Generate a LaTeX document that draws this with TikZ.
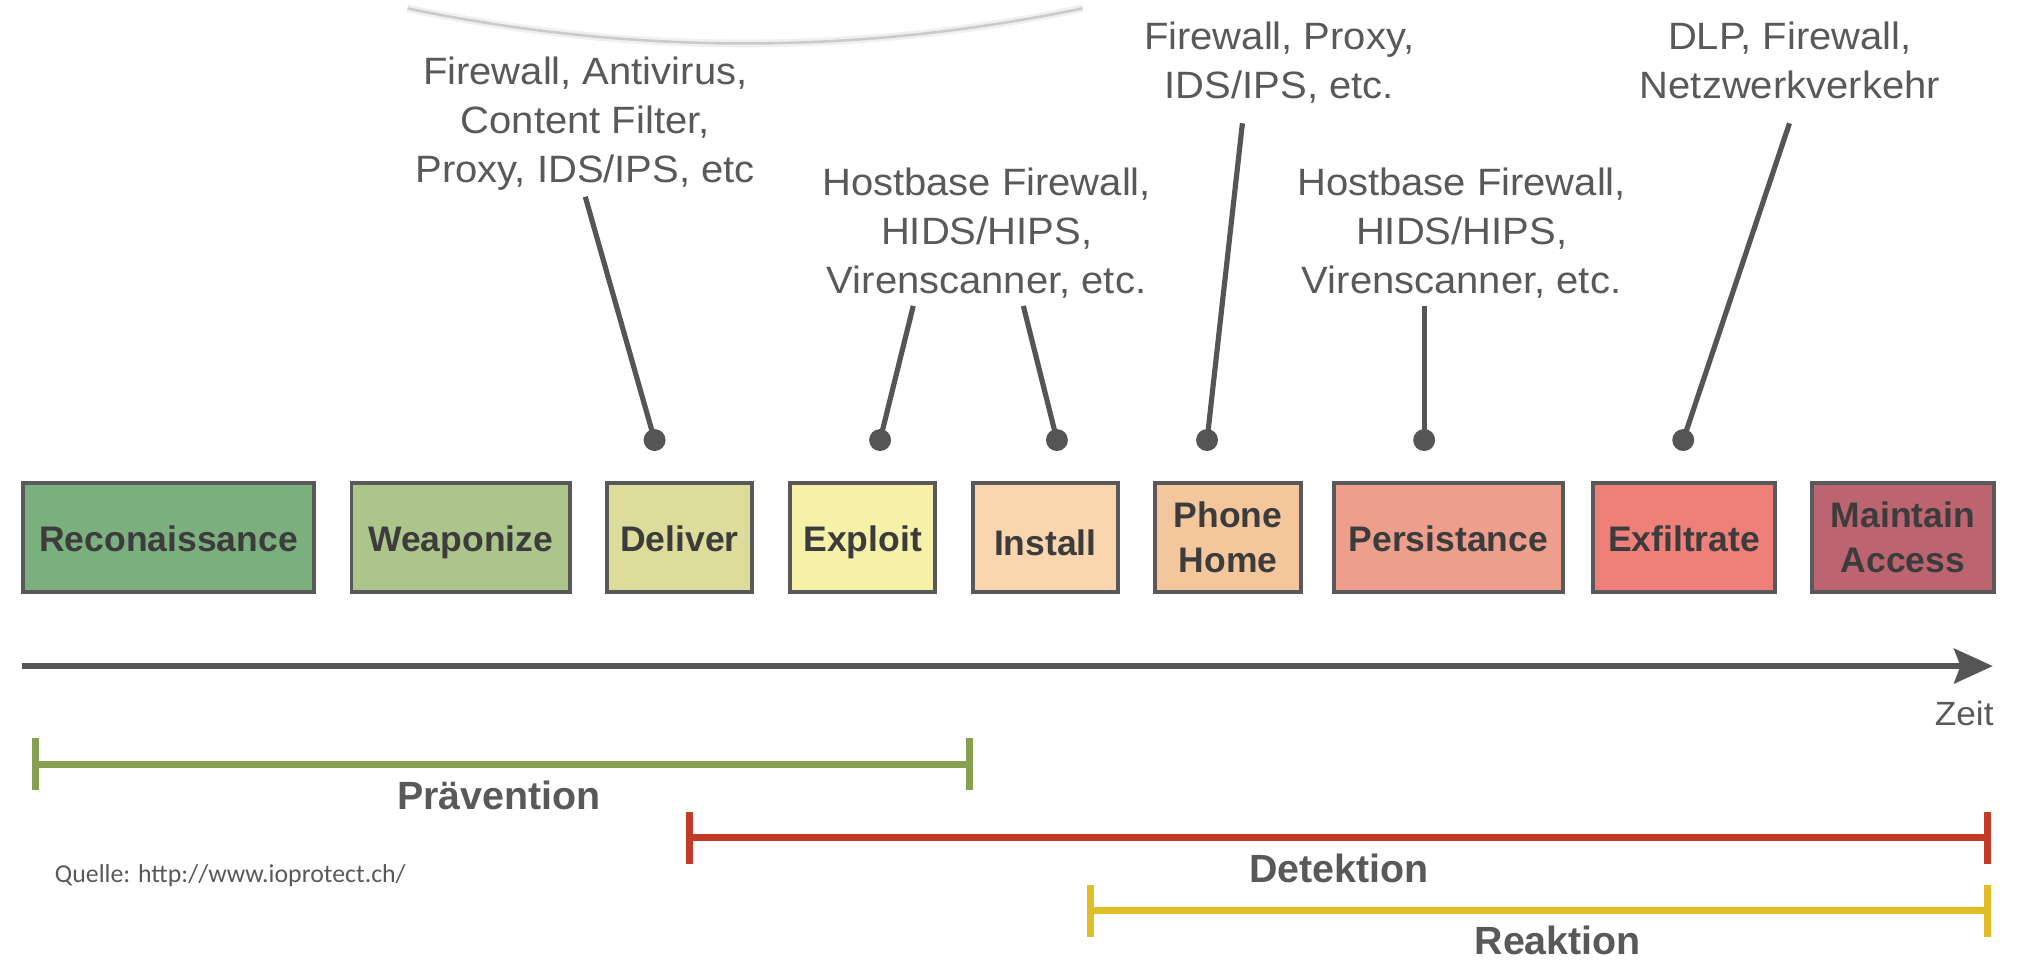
\documentclass[tikz,border=0pt]{standalone}
\usepackage{fontspec}
\setmainfont{Liberation Sans}
\newfontfamily\labfont[FakeStretch=1.05]{Liberation Sans}
\newfontfamily\srcfont{Carlito}
\usetikzlibrary{arrows.meta}
\definecolor{cRecon}{HTML}{7BB07E}
\definecolor{cWeap}{HTML}{ADC58A}
\definecolor{cDeliv}{HTML}{DCDC9B}
\definecolor{cExpl}{HTML}{F6F1A9}
\definecolor{cInst}{HTML}{FAD6AE}
\definecolor{cPhone}{HTML}{F3C79B}
\definecolor{cPers}{HTML}{EE9E8C}
\definecolor{cExfil}{HTML}{EE7F79}
\definecolor{cMaint}{HTML}{BC6570}
\definecolor{boxline}{HTML}{595959}
\definecolor{boxtext}{HTML}{3C3C3C}
\definecolor{labgray}{HTML}{595959}
\definecolor{pingray}{HTML}{555555}
\definecolor{axisgray}{HTML}{555555}
\definecolor{arcgray}{HTML}{CBCBCB}
\definecolor{arcfade}{HTML}{F0F0F0}
\definecolor{cGreen}{HTML}{87A04F}
\definecolor{cRed}{HTML}{C23B26}
\definecolor{cYellow}{HTML}{E2BD2A}
\begin{document}
\begin{tikzpicture}[x=1pt,y=-1pt,
  stage/.style={draw=boxline, line width=3pt, minimum height=84pt, inner sep=0pt,
    font=\fontsize{27.5}{35}\selectfont\bfseries, text=boxtext, align=center},
  oneline/.style={text height=26pt, text depth=4.2pt},
  lab/.style={font=\labfont\fontsize{29.5}{38}\selectfont, text=labgray, align=center,
    inner sep=0pt, anchor=base},
  pin/.style={draw=pingray, line width=4pt},
  pindot/.style={circle, fill=pingray, minimum size=17pt, inner sep=0pt},
  phase/.style={line width=5.5pt},
  phlab/.style={font=\fontsize{30.5}{36}\selectfont\bfseries, text=labgray, anchor=base, inner sep=0pt},
]
\useasboundingbox[fill=white] (0,0) rectangle (1568,756);

% faint arc at the top
\coordinate (arcL) at (315.7,6.5);
\coordinate (arcR) at (838.6,6.5);
\draw[arcfade, line width=6pt] (arcL) .. controls (490,42.7) and (664,42.7) .. (arcR);
\draw[arcgray, line width=2pt] (arcL) .. controls (490,42.7) and (664,42.7) .. (arcR);

% stages
\node[stage, oneline, fill=cRecon, minimum width=225.7pt] (recon) at (130.6,416.5) {Reconaissance};
\node[stage, oneline, fill=cWeap, minimum width=169.2pt] (weap) at (356.9,416.5) {Weaponize};
\node[stage, oneline, fill=cDeliv, minimum width=112.2pt] (deliv) at (526.3,416.5) {Deliver};
\node[stage, oneline, fill=cExpl, minimum width=112.5pt] (expl) at (668.3,416.5) {Exploit};
\node[stage, fill=cInst, minimum width=112.5pt, text height=30pt, text depth=2pt] (inst) at (809.8,416.5) {Install};
\node[stage, fill=cPhone, minimum width=112.9pt] (phone) at (951.4,416.5) {Phone\\Home};
\node[stage, oneline, fill=cPers, minimum width=177.4pt] (pers) at (1122,416.5) {Persistance};
\node[stage, oneline, fill=cExfil, minimum width=141.2pt] (exfil) at (1304.6,416.5) {Exfiltrate};
\node[stage, fill=cMaint, minimum width=141pt] (maint) at (1474.2,416.5) {Maintain\\Access};

% labels (anchor base = baseline of the last line)
\node[lab] (l1) at (453.4,141.5) {Firewall, Antivirus,\\Content Filter,\\Proxy, IDS/IPS, etc};
\node[lab] (l2) at (764.3,227.2) {Hostbase Firewall,\\HIDS/HIPS,\\Virenscanner, etc.};
\node[lab] (l3) at (991,76.2) {Firewall, Proxy,\\IDS/IPS, etc.};
\node[lab] (l4) at (1132.3,227.2) {Hostbase Firewall,\\HIDS/HIPS,\\Virenscanner, etc.};
\node[lab] (l5) at (1386.6,76.2) {DLP, Firewall,\\Netzwerkverkehr};

% pins
\coordinate (t1) at (453.4,152.4);
\coordinate (t2) at (707.5,237);
\coordinate (t3) at (792.8,237);
\coordinate (t4) at (962.5,95.5);
\coordinate (t5) at (1103.3,237);
\coordinate (t6) at (1386.3,95.5);
\node[pindot] (d1) at (507.1,340.9) {};
\node[pindot] (d2) at (681.8,340.9) {};
\node[pindot] (d3) at (818.8,340.9) {};
\node[pindot] (d4) at (935.1,340.9) {};
\node[pindot] (d5) at (1103.3,340.9) {};
\node[pindot] (d6) at (1304,340.9) {};
\draw[pin] (t1) -- (d1.center);
\draw[pin] (t2) -- (d2.center);
\draw[pin] (t3) -- (d3.center);
\draw[pin] (t4) -- (d4.center);
\draw[pin] (t5) -- (d5.center);
\draw[pin] (t6) -- (d6.center);

% time axis
\coordinate (ax0) at (17.3,516);
\coordinate (ax1) at (1543.8,516);
\draw[axisgray, line width=4.5pt, -{Stealth[length=30pt,width=27pt,inset=5pt]}] (ax0) -- (ax1);
\node[font=\labfont\fontsize{26}{30}\selectfont, text=labgray, anchor=base east, inner sep=0pt] (zeit) at (1544.6,562.4) {Zeit};

% phases
\coordinate (gL) at (24.7,592.1);
\coordinate (gR) at (754,592.1);
\draw[cGreen, phase, {Bar[width=40pt]}-{Bar[width=40pt]}] (gL) -- (gR);
\node[phlab] (prev) at (386.6,627) {Prävention};

\coordinate (rL) at (531.1,649);
\coordinate (rR) at (1542.8,649);
\draw[cRed, phase, {Bar[width=40pt]}-{Bar[width=40pt]}] (rL) -- (rR);
\node[phlab] (det) at (1037.3,683.8) {Detektion};

\coordinate (yL) at (842,705.6);
\coordinate (yR) at (1542.8,705.6);
\draw[cYellow, phase, {Bar[width=40pt]}-{Bar[width=40pt]}] (yL) -- (yR);
\node[phlab] (reak) at (1206.8,739.8) {Reaktion};

\node[font=\srcfont\fontsize{20}{24}\selectfont, text=labgray, anchor=base west, inner sep=0pt] (src) at (42.4,683.8) {Quelle: http://www.ioprotect.ch/};
\end{tikzpicture}
\end{document}
